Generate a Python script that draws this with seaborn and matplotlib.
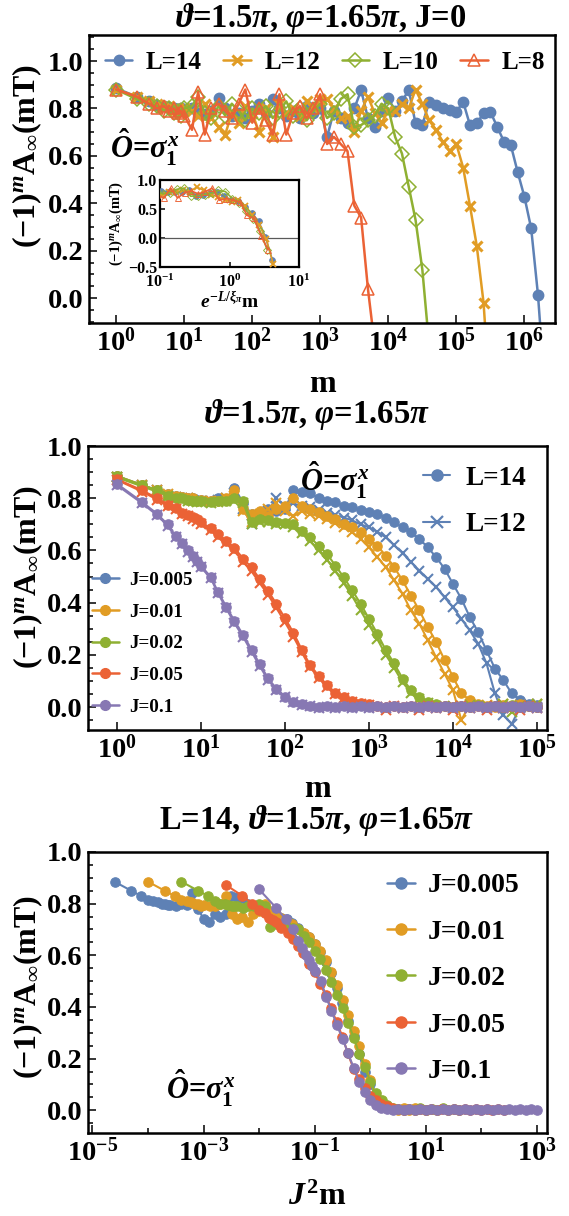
import numpy as np
import pandas as pd
import matplotlib
matplotlib.use('Agg')
import matplotlib.pyplot as plt
import seaborn as sns
from matplotlib.ticker import FixedLocator, NullLocator, MultipleLocator, FuncFormatter
from matplotlib.lines import Line2D

sns.set_theme(style='ticks')
plt.rcParams['font.family'] = ['Liberation Serif', 'DejaVu Serif']
plt.rcParams['font.weight'] = 'bold'
plt.rcParams['axes.labelweight'] = 'bold'
plt.rcParams['mathtext.fontset'] = 'custom'
plt.rcParams['mathtext.rm'] = 'Liberation Serif:bold'
plt.rcParams['mathtext.it'] = 'Liberation Serif:italic:bold'
plt.rcParams['mathtext.bf'] = 'Liberation Serif:bold'
for k in ['text.color', 'axes.labelcolor', 'xtick.color', 'ytick.color', 'axes.edgecolor']:
    plt.rcParams[k] = 'black'

BLUE, ORANGE, GREEN, RED, PURPLE = '#5E81B5', '#E19C24', '#8FB032', '#EB6235', '#8778B3'

# ---------------- panel 1 : J=0, different L ----------------
m1 = [1, 2, 3, 4, 5, 6, 7, 8, 9, 10,
      13, 16, 20, 25, 32, 40, 50, 63, 79, 100,
      126, 158, 200, 251, 316, 398, 501, 631, 794, 1000,
      1259, 1585, 1995, 2512, 3162, 3981, 5012, 6310, 7943, 10000,
      12589, 15849, 19953, 25119, 31623, 39811, 50119, 63096, 79433, 100000,
      125893, 158489, 199526, 251189, 316228, 398107, 501187, 630957, 794328, 1000000,
      1258925, 1584893, 1995262]

a_L14 = [0.885, 0.85, 0.83, 0.815, 0.81, 0.805, 0.80, 0.795, 0.80, 0.79,
         0.80, 0.78, 0.775, 0.79, 0.843, 0.80, 0.77, 0.78, 0.76, 0.79,
         0.82, 0.78, 0.84, 0.80, 0.77, 0.79, 0.76, 0.81, 0.78, 0.80,
         0.68, 0.79, 0.76, 0.74, 0.80, 0.877, 0.76, 0.72, 0.79, 0.843,
         0.79, 0.83, 0.878, 0.737, 0.73, 0.828, 0.814, 0.80, 0.793, 0.786,
         0.828, 0.73, 0.737, 0.78, 0.786, 0.723, 0.66, 0.646, 0.533, 0.428,
         0.294, 0.013, -0.38]
a_L12 = [0.88, 0.85, 0.83, 0.82, 0.80, 0.81, 0.79, 0.80, 0.78, 0.80,
         0.79, 0.77, 0.82, 0.76, 0.72, 0.69, 0.78, 0.74, 0.81, 0.78,
         0.70, 0.80, 0.68, 0.82, 0.78, 0.80, 0.77, 0.83, 0.80, 0.84,
         0.84, 0.80, 0.76, 0.77, 0.70, 0.79, 0.85, 0.78, 0.74, 0.79,
         0.79, 0.82, 0.80, 0.88, 0.82, 0.75, 0.71, 0.66, 0.62, 0.65,
         0.55, 0.39, 0.22, -0.02, -0.45]
a_L10 = [0.88, 0.84, 0.82, 0.81, 0.79, 0.80, 0.78, 0.79, 0.77, 0.80,
         0.81, 0.85, 0.78, 0.76, 0.81, 0.77, 0.82, 0.79, 0.75, 0.80,
         0.78, 0.81, 0.76, 0.79, 0.83, 0.77, 0.80, 0.75, 0.79, 0.82,
         0.76, 0.78, 0.84, 0.86, 0.72, 0.73, 0.75, 0.77, 0.82, 0.80,
         0.68, 0.61, 0.47, 0.33, 0.12, -0.2]
a_L8 = [0.88, 0.85, 0.82, 0.80, 0.81, 0.79, 0.80, 0.78, 0.79, 0.77,
        0.71, 0.87, 0.69, 0.80, 0.82, 0.79, 0.76, 0.82, 0.88, 0.74,
        0.80, 0.75, 0.69, 0.86, 0.69, 0.78, 0.81, 0.76, 0.80, 0.86,
        0.65, 0.68, 0.65, 0.62, 0.39, 0.34, 0.04, -0.2]
L_sizes = [14, 12, 10, 8]
xi_pi = 1.07

# ---------------- panel 2/3 : J>0 ----------------
m2 = [1, 2, 3, 4, 5, 6, 7, 8, 9, 10,
      13, 16, 20, 25, 32, 40, 50, 63, 79, 100,
      126, 158, 200, 251, 316, 398, 501, 631, 794, 1000,
      1259, 1585, 1995, 2512, 3162, 3981, 5012, 6310, 7943, 10000,
      12589, 15849, 19953, 25119, 31623, 39811, 50119, 63096, 79433, 100000]
J_vals = [0.005, 0.01, 0.02, 0.05, 0.1]
J_labels = ['J=0.005', 'J=0.01', 'J=0.02', 'J=0.05', 'J=0.1']

b14_J005 = [0.885, 0.85, 0.83, 0.815, 0.81, 0.805, 0.80, 0.80, 0.795, 0.795,
            0.79, 0.80, 0.795, 0.84, 0.78, 0.74, 0.73, 0.76, 0.75, 0.76,
            0.83, 0.825, 0.82, 0.80, 0.79, 0.784, 0.772, 0.765, 0.755, 0.746,
            0.739, 0.726, 0.707, 0.688, 0.669, 0.644, 0.612, 0.574, 0.53, 0.472,
            0.415, 0.345, 0.287, 0.217, 0.147, 0.103, 0.052, 0.027, 0.012, 0.006]
b12_J005 = [0.88, 0.85, 0.83, 0.81, 0.805, 0.80, 0.80, 0.795, 0.79, 0.79,
            0.79, 0.795, 0.80, 0.82, 0.76, 0.70, 0.73, 0.75, 0.80, 0.77,
            0.78, 0.77, 0.765, 0.755, 0.745, 0.735, 0.726, 0.715, 0.70, 0.688,
            0.672, 0.65, 0.62, 0.59, 0.555, 0.523, 0.49, 0.46, 0.42, 0.383,
            0.338, 0.294, 0.243, 0.167, 0.052, -0.03, -0.065, 0.0, 0.01, 0.0]
b14_J01 = [0.885, 0.85, 0.83, 0.815, 0.81, 0.805, 0.80, 0.80, 0.79, 0.795,
           0.79, 0.79, 0.80, 0.83, 0.76, 0.74, 0.75, 0.73, 0.76, 0.77,
           0.80, 0.77, 0.76, 0.746, 0.733, 0.72, 0.70, 0.688, 0.67, 0.644,
           0.618, 0.58, 0.536, 0.485, 0.427, 0.37, 0.307, 0.249, 0.18, 0.116,
           0.052, 0.027, 0.012, 0.005, 0.0, 0.008, 0.0, 0.01, 0.005, 0.0]
b12_J01 = [0.88, 0.85, 0.83, 0.815, 0.805, 0.80, 0.80, 0.79, 0.79, 0.79,
           0.79, 0.79, 0.80, 0.81, 0.75, 0.71, 0.74, 0.76, 0.78, 0.75,
           0.73, 0.75, 0.74, 0.73, 0.72, 0.705, 0.69, 0.67, 0.645, 0.612,
           0.574, 0.536, 0.485, 0.434, 0.37, 0.32, 0.256, 0.19, 0.128, 0.065,
           -0.05, 0.01, 0.0, 0.008, 0.0, 0.01, 0.0, 0.008, 0.0, 0.01]
b14_J02 = [0.885, 0.85, 0.83, 0.81, 0.80, 0.80, 0.795, 0.79, 0.79, 0.79,
           0.785, 0.79, 0.79, 0.80, 0.79, 0.71, 0.72, 0.715, 0.71, 0.705,
           0.70, 0.676, 0.65, 0.618, 0.587, 0.542, 0.497, 0.447, 0.396, 0.338,
           0.281, 0.218, 0.167, 0.109, 0.065, 0.039, 0.02, 0.01, 0.005, 0.0,
           0.005, 0.0, 0.008, 0.0, 0.005, 0.0, 0.008, 0.0, 0.005, 0.0]
b12_J02 = [0.88, 0.845, 0.825, 0.81, 0.80, 0.795, 0.79, 0.79, 0.785, 0.785,
           0.78, 0.785, 0.79, 0.79, 0.78, 0.70, 0.71, 0.71, 0.70, 0.70,
           0.69, 0.665, 0.635, 0.60, 0.565, 0.52, 0.475, 0.425, 0.37, 0.315,
           0.26, 0.20, 0.15, 0.095, 0.055, 0.03, 0.015, 0.005, 0.0, 0.005,
           0.0, 0.008, 0.0, 0.005, 0.0, 0.01, -0.02, 0.005, 0.0, 0.01]
b14_J05 = [0.873, 0.83, 0.80, 0.775, 0.762, 0.745, 0.737, 0.728, 0.72, 0.707,
           0.685, 0.662, 0.637, 0.61, 0.567, 0.535, 0.49, 0.445, 0.395, 0.34,
           0.285, 0.22, 0.16, 0.12, 0.085, 0.055, 0.038, 0.025, 0.015, 0.01,
           0.005, 0.0, 0.005, 0.0, 0.005, 0.0, 0.003, 0.0, 0.005, 0.0,
           0.005, 0.0, 0.003, 0.0, 0.005, 0.0, 0.003, 0.0, 0.005, 0.0]
b12_J05 = [0.87, 0.825, 0.795, 0.77, 0.757, 0.74, 0.73, 0.72, 0.712, 0.70,
           0.677, 0.652, 0.627, 0.598, 0.556, 0.52, 0.475, 0.43, 0.38, 0.325,
           0.27, 0.21, 0.152, 0.112, 0.078, 0.05, 0.033, 0.02, 0.012, 0.008,
           0.0, -0.01, 0.005, -0.005, 0.0, -0.01, 0.005, -0.005, 0.0, -0.01,
           0.005, -0.005, 0.0, -0.01, 0.005, -0.005, 0.0, -0.01, 0.005, -0.005]
b14_J1 = [0.855, 0.785, 0.74, 0.70, 0.655, 0.63, 0.60, 0.58, 0.56, 0.54,
          0.50, 0.44, 0.385, 0.33, 0.275, 0.22, 0.165, 0.11, 0.07, 0.04,
          0.02, 0.01, 0.005, 0.0, 0.003, 0.0, 0.003, 0.0, 0.003, 0.0,
          0.003, 0.0, 0.003, 0.0, 0.003, 0.0, 0.003, 0.0, 0.003, 0.0,
          0.003, 0.0, 0.003, 0.0, 0.003, 0.0, 0.003, 0.0, 0.003, 0.0]
b12_J1 = [0.85, 0.78, 0.735, 0.695, 0.65, 0.625, 0.595, 0.575, 0.555, 0.535,
          0.495, 0.435, 0.378, 0.322, 0.267, 0.212, 0.157, 0.104, 0.066, 0.037,
          0.018, 0.008, 0.003, -0.005, 0.0, -0.005, 0.0, -0.005, 0.0, -0.005,
          0.0, -0.005, 0.0, -0.005, 0.0, -0.005, 0.0, -0.005, 0.0, -0.005,
          0.0, -0.005, 0.0, -0.005, 0.0, -0.005, 0.0, -0.005, 0.0, -0.005]

colors_J = [BLUE, ORANGE, GREEN, RED, PURPLE]
L14_sets = [b14_J005, b14_J01, b14_J02, b14_J05, b14_J1]
L12_sets = [b12_J005, b12_J01, b12_J02, b12_J05, b12_J1]

W, H = 569, 1216
fig = plt.figure(figsize=(W / 100, H / 100), dpi=100)


def box(l, r, t, b):
    return [l / W, 1 - b / H, (r - l) / W, (b - t) / H]


def draw(ax, x, y, color, marker, ms, mfc, mew=1.0, lw=1.5, z=2):
    d = pd.DataFrame({'x': x, 'y': y})
    sns.lineplot(data=d, x='x', y='y', ax=ax, color=color, marker=marker, markersize=ms,
                 markerfacecolor=mfc, markeredgecolor=color, markeredgewidth=mew,
                 linewidth=lw, estimator=None, legend=False, zorder=z)


def yfmt(v, p):
    if abs(v) < 1e-9:
        return '0.0'
    return ('%.1f' % v).replace('-', '\u2212')


def style(ax, fs=20.5, frame=1.8):
    for s in ax.spines.values():
        s.set_linewidth(frame)
        s.set_color('black')
        s.set_visible(True)
    ax.tick_params(which='both', direction='in', top=False, right=False, labelsize=fs,
                   width=1.1, color='black')
    ax.tick_params(which='major', length=6, pad=4)
    ax.tick_params(which='minor', length=3.5)
    ax.set_facecolor('white')
    ax.grid(False)


def logticks(ax, exps, minor_exps=()):
    ax.xaxis.set_major_locator(FixedLocator([10.0 ** k for k in exps]))
    if minor_exps:
        ax.xaxis.set_minor_locator(FixedLocator([10.0 ** k for k in minor_exps]))
    else:
        ax.xaxis.set_minor_locator(NullLocator())
    ax.xaxis.set_major_formatter(FuncFormatter(lambda v, p: r'$10^{%d}$' % int(round(np.log10(v)))))
    ax.xaxis.set_minor_formatter(FuncFormatter(lambda v, p: ''))


def ylin(ax, lo, hi):
    ax.set_ylim(lo, hi)
    ax.yaxis.set_major_locator(MultipleLocator(0.2))
    ax.yaxis.set_minor_locator(MultipleLocator(0.05))
    ax.yaxis.set_major_formatter(FuncFormatter(yfmt))


def labels(ax, xl, xy, yx, yy, fs=23):
    ax.set_xlabel(xl, fontsize=fs)
    ax.xaxis.label.set_va('center')
    ax.xaxis.set_label_coords(0.5, xy)
    ax.set_ylabel(ylab, fontsize=fs)
    ax.yaxis.label.set_va('center')
    ax.yaxis.set_label_coords(yx, yy)


ylab = r'$(-1)^{m}\mathrm{A}_{\infty}\mathrm{(mT)}$'
TFS = 23.5

# ================= panel 1 =================
ax1 = fig.add_axes(box(89, 555, 35, 323))
style(ax1)
ax1.set_xscale('log')
p1 = [(a_L14, BLUE, 'o', 7.5, BLUE, 1.0),
      (a_L12, ORANGE, 'x', 7.5, ORANGE, 2.2),
      (a_L10, GREEN, 'D', 7, 'none', 1.1),
      (a_L8, RED, '^', 9, 'none', 1.1)]
for vals, c, mk, ms, mfc, mew in p1:
    draw(ax1, m1[:len(vals)], vals, c, mk, ms, mfc, mew=mew, lw=1.8)
ax1.set_xlim(10 ** -0.40, 10 ** 6.45)
ylin(ax1, -0.105, 1.11)
logticks(ax1, range(0, 7))
labels(ax1, 'm', -0.215, -0.133, 0.58)
h1 = [Line2D([], [], color=c, marker=mk, ms=ms, mfc=mfc, mec=c, mew=mew, lw=1.8)
      for _, c, mk, ms, mfc, mew in p1]
ax1.legend(h1, ['L=%d' % L for L in L_sizes], loc='center left', bbox_to_anchor=(0.034, 0.906),
           ncol=4, frameon=False, fontsize=18, handlelength=1.1, handletextpad=0.55,
           columnspacing=0.85, borderpad=0, borderaxespad=0)
ax1.text(0.12, 0.61, r'$\hat{O}$=$\sigma_{1}^{x}$', transform=ax1.transAxes, fontsize=22,
         ha='center', va='center')
fig.text(321 / W, 1 - 18 / H, r'$\vartheta$=1.5$\pi$, $\varphi$=1.65$\pi$, J=0', fontsize=TFS,
         ha='center', va='center')

# inset: same J=0 data against the rescaled time e^{-L/xi} m
axin = fig.add_axes(box(160, 299, 180, 267))
style(axin, fs=11.5, frame=1.6)
axin.set_xscale('log')
axin.axhline(0, color='0.35', lw=0.9, zorder=1)
for (vals, c, mk, ms, mfc, mew), L in zip(p1, L_sizes):
    xs = [mm * np.exp(-L / xi_pi) for mm in m1[:len(vals)]]
    draw(axin, xs, vals, c, mk, ms * 0.55, mfc, mew=mew * 0.6, lw=1.2, z=3)
axin.set_xlim(0.1, 10)
axin.set_ylim(-0.5, 1.0)
axin.xaxis.set_major_locator(FixedLocator([0.1, 1, 10]))
axin.xaxis.set_minor_locator(NullLocator())
axin.xaxis.set_major_formatter(FuncFormatter(lambda v, p: r'$10^{%d}$' % int(round(np.log10(v)))))
axin.yaxis.set_major_locator(FixedLocator([-0.5, 0.0, 0.5, 1.0]))
axin.yaxis.set_minor_locator(NullLocator())
axin.yaxis.set_major_formatter(FuncFormatter(yfmt))
axin.tick_params(which='major', length=3.5)
axin.tick_params(axis='x', pad=5)
axin.tick_params(axis='y', pad=2)
axin.set_xlabel(r'$e^{-L/\xi_{\pi}}$m', fontsize=14, labelpad=0)
axin.set_ylabel(ylab, fontsize=10.5, labelpad=2)

# ================= panel 2 =================
ax2 = fig.add_axes(box(88, 547, 446, 730))
style(ax2)
ax2.set_xscale('log')
for c, s14, s12 in zip(colors_J, L14_sets, L12_sets):
    draw(ax2, m2, s14, c, 'o', 6.8, c, mew=0.8, lw=1.5)
    draw(ax2, m2, s12, c, 'x', 6.8, c, mew=1.5, lw=1.5)
ax2.set_xlim(10 ** -0.345, 10 ** 5.12)
ylin(ax2, -0.088, 1.0)
logticks(ax2, range(0, 6))
labels(ax2, 'm', -0.208, -0.13, 0.54)
hJ = [Line2D([], [], color=c, marker='o', ms=7, mfc=c, mec=c, lw=1.8) for c in colors_J]
legJ = ax2.legend(hJ, J_labels, loc='center left', bbox_to_anchor=(0.008, 0.304), frameon=False,
                  fontsize=13.7, handlelength=1.45, handletextpad=0.5, labelspacing=0.76,
                  borderpad=0, borderaxespad=0)
ax2.add_artist(legJ)
hL = [Line2D([], [], color=BLUE, marker='o', ms=8, mfc=BLUE, mec=BLUE, lw=1.5),
      Line2D([], [], color=BLUE, marker='x', ms=8, mfc=BLUE, mec=BLUE, mew=1.6, lw=1.5)]
ax2.legend(hL, ['L=14', 'L=12'], loc='center left', bbox_to_anchor=(0.73, 0.804), frameon=False,
           fontsize=19.5, handlelength=1.0, handletextpad=0.55, labelspacing=0.8,
           borderpad=0, borderaxespad=0)
ax2.text(0.538, 0.879, r'$\hat{O}$=$\sigma_{1}^{x}$', transform=ax2.transAxes, fontsize=22,
         ha='center', va='center')
fig.text(317 / W, 1 - 415 / H, r'$\vartheta$=1.5$\pi$, $\varphi$=1.65$\pi$', fontsize=TFS,
         ha='center', va='center')

# ================= panel 3 =================
ax3 = fig.add_axes(box(88, 547, 852, 1133))
style(ax3)
ax3.set_xscale('log')
for c, J, s14 in zip(colors_J, J_vals, L14_sets):
    draw(ax3, [J * J * mm for mm in m2], s14, c, 'o', 6.8, c, mew=0.8, lw=1.5)
ax3.set_xlim(10 ** -5.08, 10 ** 3.18)
ylin(ax3, -0.088, 1.0)
logticks(ax3, [-5, -3, -1, 1, 3], [-4, -2, 0, 2])
labels(ax3, r'$J^{2}$m', -0.228, -0.13, 0.52)
hJ3 = [Line2D([], [], color=c, marker='o', ms=8, mfc=c, mec=c, lw=1.8) for c in colors_J]
ax3.legend(hJ3, J_labels, loc='center left', bbox_to_anchor=(0.652, 0.55), frameon=False,
           fontsize=20, handlelength=1.0, handletextpad=0.47, labelspacing=0.755,
           borderpad=0, borderaxespad=0)
ax3.text(0.246, 0.16, r'$\hat{O}$=$\sigma_{1}^{x}$', transform=ax3.transAxes, fontsize=22,
         ha='center', va='center')
fig.text(317 / W, 1 - 821 / H, r'L=14, $\vartheta$=1.5$\pi$, $\varphi$=1.65$\pi$', fontsize=TFS,
         ha='center', va='center')

fig.savefig('out.png', dpi=100)
